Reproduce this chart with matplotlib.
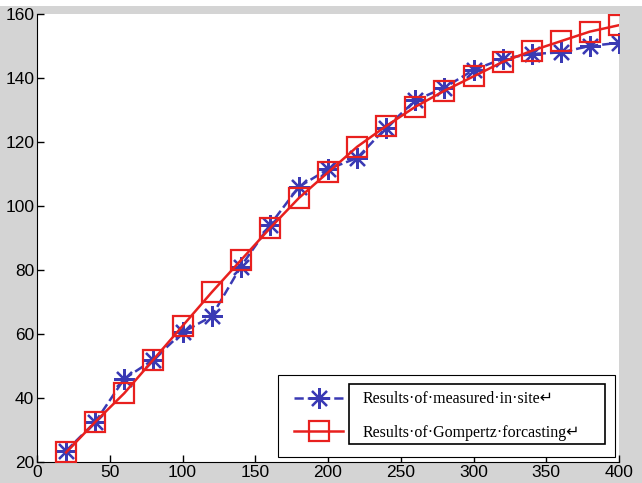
import numpy as np
import matplotlib.pyplot as plt
from matplotlib.patches import Rectangle

# time (x) and values
x = [20, 40, 60, 80, 100, 120, 140, 160, 180, 200,
     220, 240, 260, 280, 300, 320, 340, 360, 380, 400]
measured = [23.5, 32.5, 46, 52, 60.5, 65.5, 81, 94, 106, 111.5,
            115, 124.5, 133, 137, 142.5, 146, 147.5, 148, 150, 151]
gompertz = [23, 32.5, 41.5, 52, 62.5, 73, 83, 93, 102.5, 110.5,
            118.5, 125, 131, 136, 140.5, 145, 148.5, 151.5, 154.5, 156.5]

labels = ['Results\u00b7of\u00b7measured\u00b7in\u00b7site\u21b5',
          'Results\u00b7of\u00b7Gompertz\u00b7forcasting\u21b5']

W, H = 642, 483
fig = plt.figure(figsize=(W/100, H/100), dpi=100, facecolor='#d4d4d4')
fig.patches.append(Rectangle((0, 1-6/H), 1, 6/H, transform=fig.transFigure,
                             facecolor='white', edgecolor='none'))

ax = fig.add_axes([37/W, 1-462/H, (619-37)/W, (462-14)/H])
ax.set_facecolor('white')

blue = '#3a3ab4'
red = '#e8201e'
# matlab style asterisk: 8 arms
ax.plot(x, measured, '--', color=blue, lw=1.8, marker=(8, 2, 0), ms=15,
        mew=1.6, label=labels[0], zorder=3)
ax.plot(x, gompertz, '-', color=red, lw=1.8, marker='s', ms=15,
        mew=1.6, mfc='none', label=labels[1], zorder=4)

ax.set_xlim(0, 400)
ax.set_ylim(20, 160)
ax.set_xticks(np.arange(0, 401, 50))
ax.set_yticks(np.arange(20, 161, 20))
ax.spines['top'].set_visible(False)
ax.spines['right'].set_visible(False)
ax.tick_params(direction='in', length=5, width=1, labelsize=12.5)
ax.tick_params(axis='x', pad=2)
ax.tick_params(axis='y', pad=2)
for t in ax.get_xticklabels() + ax.get_yticklabels():
    t.set_fontfamily('Liberation Sans')

leg = ax.legend(loc='lower left', mode='expand',
                bbox_to_anchor=(278/W, 1-457/H, 337/W, 83/H),
                bbox_transform=fig.transFigure, borderaxespad=0,
                prop={'family': ['Liberation Serif', 'DejaVu Sans'], 'size': 11.5},
                fancybox=False, edgecolor='black', framealpha=1,
                handlelength=3.1, handletextpad=1.2, labelspacing=1.1,
                borderpad=1.0)
leg.get_frame().set_linewidth(0.8)

# inner text box from the original figure
fig.patches.append(Rectangle((349/W, 1-444/H), (605-349)/W, (444-384)/H,
                             transform=fig.transFigure, facecolor='none',
                             edgecolor='black', lw=1.2, zorder=10))

fig.savefig('out.png', dpi=100, facecolor=fig.get_facecolor())
